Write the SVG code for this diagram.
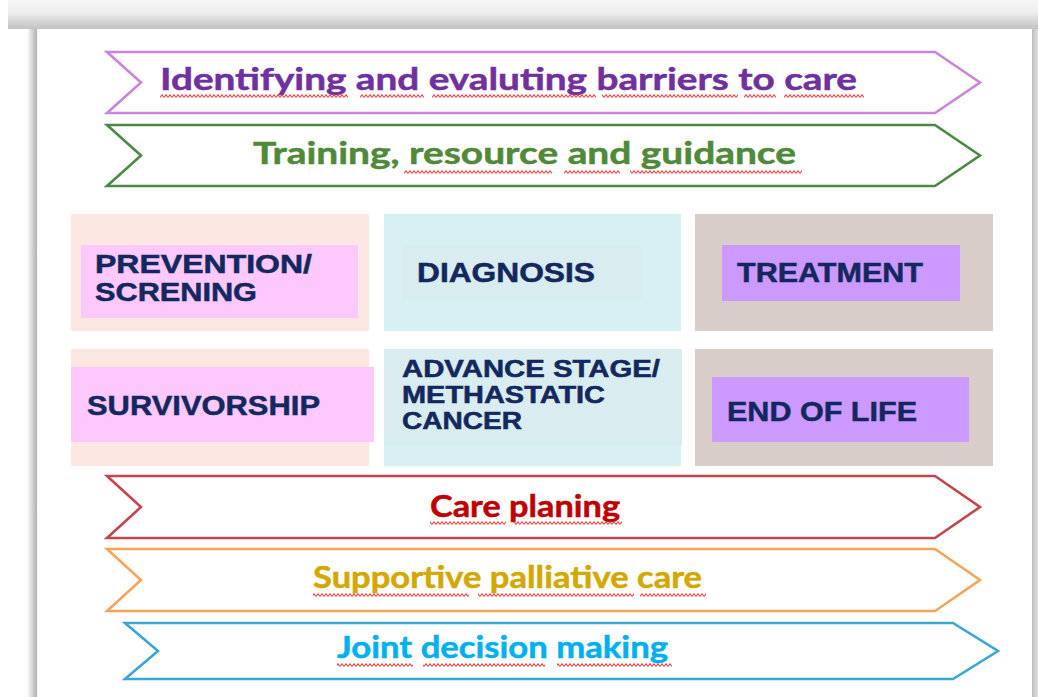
<svg xmlns="http://www.w3.org/2000/svg" width="1038" height="697" viewBox="0 0 1038 697">
  <defs>
    <linearGradient id="topShade" x1="0" y1="0" x2="0" y2="1">
      <stop offset="0" stop-color="#f6f6f6"/>
      <stop offset="0.4" stop-color="#efefef"/>
      <stop offset="1" stop-color="#c2c2c2"/>
    </linearGradient>
    <linearGradient id="leftShade" x1="0" y1="0" x2="1" y2="0">
      <stop offset="0" stop-color="#ffffff"/>
      <stop offset="1" stop-color="#aeaeae"/>
    </linearGradient>
    <linearGradient id="rightShade" x1="0" y1="0" x2="1" y2="0">
      <stop offset="0" stop-color="#bdbdbd"/>
      <stop offset="1" stop-color="#e2e2e2"/>
    </linearGradient>
    <!-- red spell-check squiggle -->
    <pattern id="squiggle" width="4" height="4" patternUnits="userSpaceOnUse">
      <path d="M0 3.4 L2 0.8 L4 3.4" fill="none" stroke="#f0484a" stroke-width="1.1"/>
    </pattern>
    <style>
      .banner { fill: #ffffff; stroke-width: 2.6; stroke-linejoin: miter; }
      .title { font-family: Lato, "Open Sans", "Liberation Sans", sans-serif; font-weight: 700; font-size: 31px; stroke-width: 0.5; }
      .label { font-family: "Liberation Sans", Arial, sans-serif; font-weight: 700; font-size: 27px; fill: #13285e; stroke: #13285e; stroke-width: 0.5; }
      .label2 { font-size: 25px; }
      .label3 { font-size: 23px; }
      .peach { fill: #fde7e3; }
      .pink { fill: #fdc9fd; }
      .cyan { fill: #d6f0f4; }
      .cyanInner { fill: #d9ecef; }
      .taupe { fill: #d8cdc8; }
      .violet { fill: #cc99ff; }
      .sq { fill: url(#squiggle); }
    </style>
  </defs>

  <!-- page background and card shadow -->
  <rect x="0" y="0" width="1038" height="697" fill="#ffffff"/>
  <rect x="8" y="0" width="1030" height="29" fill="url(#topShade)"/>
  <rect x="27" y="29" width="10" height="668" fill="url(#leftShade)"/>
  <rect x="1032" y="29" width="6" height="668" fill="url(#rightShade)"/>
  <rect x="37" y="29" width="995" height="668" fill="#ffffff"/>

  <!-- top banners -->
  <g id="barriers">
    <path class="banner" stroke="#c985dd" d="M107 52 L935 52 L980 82.5 L935 113 L107 113 L141 82.5 Z"/>
    <text class="title" x="160" y="90" fill="#7030a0" stroke="#7030a0" textLength="697" lengthAdjust="spacingAndGlyphs">Identifying and evaluting barriers to care</text>
    <g transform="translate(0 94)">
      <rect class="sq" x="160" y="0" width="188" height="4"/>
      <rect class="sq" x="360" y="0" width="64" height="4"/>
      <rect class="sq" x="432" y="0" width="164" height="4"/>
      <rect class="sq" x="602" y="0" width="136" height="4"/>
      <rect class="sq" x="744" y="0" width="32" height="4"/>
      <rect class="sq" x="784" y="0" width="80" height="4"/>
    </g>
  </g>

  <g id="training">
    <path class="banner" stroke="#4a8a44" d="M107 125 L935 125 L980 155.5 L935 186 L107 186 L141 155.5 Z"/>
    <text class="title" x="253" y="164" fill="#4f8a38" stroke="#4f8a38" textLength="543" lengthAdjust="spacingAndGlyphs">Training, resource and guidance</text>
    <g transform="translate(0 170)">
      <rect class="sq" x="404" y="0" width="148" height="4"/>
      <rect class="sq" x="564" y="0" width="56" height="4"/>
      <rect class="sq" x="630" y="0" width="172" height="4"/>
    </g>
  </g>

  <!-- care stage boxes, row 1 -->
  <g id="prevention">
    <rect class="peach" x="71" y="214" width="298" height="117"/>
    <rect class="pink" x="81" y="245" width="277" height="73"/>
    <text class="label label2" x="95" y="273" textLength="217" lengthAdjust="spacingAndGlyphs">PREVENTION/</text>
    <text class="label label2" x="95" y="301" textLength="162" lengthAdjust="spacingAndGlyphs">SCRENING</text>
  </g>

  <g id="diagnosis">
    <rect class="cyan" x="384" y="214" width="297" height="117"/>
    <rect class="cyanInner" x="402" y="245" width="240" height="55"/>
    <text class="label" x="417" y="282" textLength="178" lengthAdjust="spacingAndGlyphs">DIAGNOSIS</text>
  </g>

  <g id="treatment">
    <rect class="taupe" x="695" y="214" width="298" height="117"/>
    <rect class="violet" x="722" y="245" width="238" height="56"/>
    <text class="label" x="737" y="282" textLength="186" lengthAdjust="spacingAndGlyphs">TREATMENT</text>
  </g>

  <!-- care stage boxes, row 2 -->
  <g id="survivorship">
    <rect class="peach" x="71" y="349" width="298" height="117"/>
    <rect class="pink" x="71" y="367" width="303" height="75"/>
    <text class="label" x="87" y="415" textLength="233" lengthAdjust="spacingAndGlyphs">SURVIVORSHIP</text>
  </g>

  <g id="advanced-stage">
    <rect class="cyan" x="384" y="349" width="297" height="117"/>
    <rect class="cyanInner" x="384" y="349" width="298" height="96"/>
    <text class="label label3" x="402" y="377" textLength="258" lengthAdjust="spacingAndGlyphs">ADVANCE STAGE/</text>
    <text class="label label3" x="402" y="403" textLength="203" lengthAdjust="spacingAndGlyphs">METHASTATIC</text>
    <text class="label label3" x="402" y="429" textLength="120" lengthAdjust="spacingAndGlyphs">CANCER</text>
  </g>

  <g id="end-of-life">
    <rect class="taupe" x="695" y="349" width="298" height="117"/>
    <rect class="violet" x="712" y="377" width="257" height="65"/>
    <text class="label" x="727" y="421" textLength="190" lengthAdjust="spacingAndGlyphs">END OF LIFE</text>
  </g>

  <!-- bottom banners -->
  <g id="care-planning">
    <path class="banner" stroke="#c2464c" d="M107 476 L935 476 L980 507 L935 538 L107 538 L141 507 Z"/>
    <text class="title" x="430" y="517" fill="#c00000" stroke="#c00000" textLength="190" lengthAdjust="spacingAndGlyphs">Care planing</text>
    <g transform="translate(0 521)">
      <rect class="sq" x="430" y="0" width="76" height="4"/>
      <rect class="sq" x="514" y="0" width="108" height="4"/>
    </g>
  </g>

  <g id="supportive-care">
    <path class="banner" stroke="#f8a458" d="M107 549 L935 549 L980 580 L935 611 L107 611 L141 580 Z"/>
    <text class="title" x="313" y="588" fill="#d4a800" stroke="#d4a800" textLength="389" lengthAdjust="spacingAndGlyphs">Supportive palliative care</text>
    <g transform="translate(0 593)">
      <rect class="sq" x="313" y="0" width="156" height="4"/>
      <rect class="sq" x="478" y="0" width="156" height="4"/>
      <rect class="sq" x="640" y="0" width="66" height="4"/>
    </g>
  </g>

  <g id="joint-decision">
    <path class="banner" stroke="#3aa6d6" d="M125 623 L953 623 L998 651 L953 679 L125 679 L158 651 Z"/>
    <text class="title" x="337" y="658" fill="#00b0f0" stroke="#00b0f0" textLength="331" lengthAdjust="spacingAndGlyphs">Joint decision making</text>
    <g transform="translate(0 663)">
      <rect class="sq" x="337" y="0" width="76" height="4"/>
      <rect class="sq" x="423" y="0" width="122" height="4"/>
      <rect class="sq" x="557" y="0" width="115" height="4"/>
    </g>
  </g>

  <g id="connectors"/>
</svg>
